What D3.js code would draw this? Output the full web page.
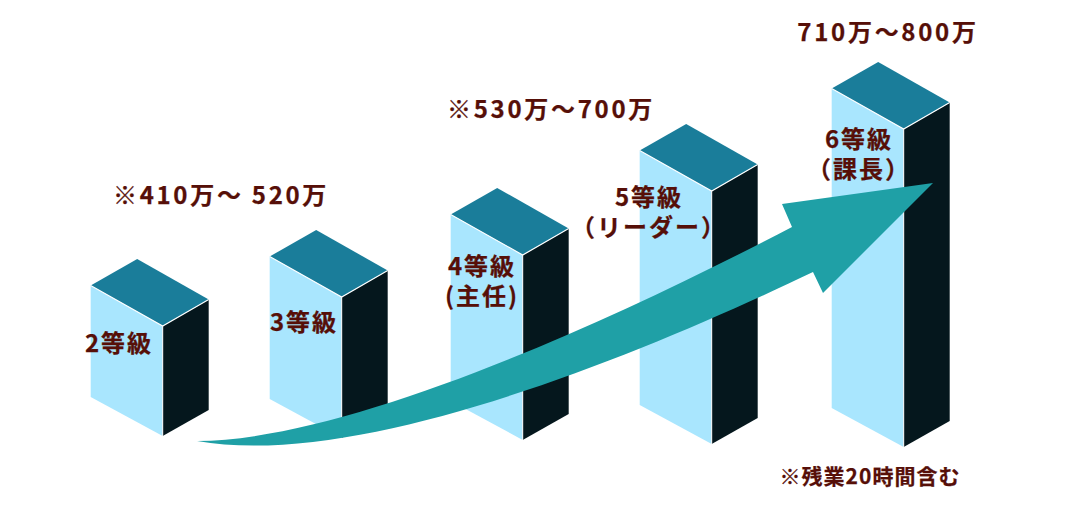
<!DOCTYPE html>
<html><head><meta charset="utf-8">
<script src="https://d3js.org/d3.v7.min.js"></script>
<style>html,body{margin:0;background:#fff}svg{display:block}
text{font-family:"Noto Sans CJK JP","Noto Sans",sans-serif;font-weight:700;fill:#560f08;stroke:#560f08;stroke-width:.25}</style>
</head><body><svg id="c" width="1070" height="510"></svg>
<script>
const grades=["2等級","3等級","4等級","5等級","6等級"];
const columnHeights=[110,141,185,253,318];
const frontEdge=[162.7,341.7,522.7,711.7,903.7];
const baseEdge=[436,438,440,444,447];
const gradeLabels=[["2等級"],["3等級"],["4等級","(主任)"],["5等級","（リーダー）"],["6等級","（課長）"]];
const gradeLabelX=[119,304,482,649,859];
const gradeLabelY=[352,331,275,206,148];
const salaryBands=["※410万～ 520万","※530万～700万","710万～800万"];
const salaryX=[221,551,888];
const salaryY=[204,118,41];
const note="※残業20時間含む";

const svg=d3.select("#c");
const x=d3.scaleOrdinal(grades,frontEdge);
const base=d3.scaleOrdinal(grades,baseEdge);
const h=d3.scaleLinear([0,318],[0,318]);
const LW=72,LT=40.5,LB=39,RW=46,RT=26.5,RB=26;
const line=d3.line();
const topY=d=>base(d)-h(columnHeights[grades.indexOf(d)]);
const g=svg.selectAll("g.col").data(grades).join("g").attr("class","col");
g.append("path").attr("fill","#a9e6fe").attr("d",d=>{const X=x(d),B=base(d),T=topY(d);
 return line([[X,T],[X-LW,T-LT],[X-LW,B-LB],[X,B]])+"Z"});
g.append("path").attr("fill","#05171d").attr("d",d=>{const X=x(d),B=base(d),T=topY(d);
 return line([[X,T],[X+RW,T-RT],[X+RW,B-RB],[X,B]])+"Z"});
g.append("path").attr("fill","#1a7d9a").attr("d",d=>{const X=x(d),T=topY(d);
 return line([[X,T],[X+RW,T-RT],[X+RW-LW+.5,T-RT-LT],[X-LW,T-LT]])+"Z"});
g.append("path").attr("fill","none").attr("stroke","#fff").attr("stroke-width",1.1).attr("d",d=>{const X=x(d),T=topY(d);
 return line([[X-LW,T-LT],[X,T],[X+RW,T-RT]])});
g.append("path").attr("fill","none").attr("stroke","#fff").attr("stroke-width",1).attr("d",d=>{const X=x(d),T=topY(d),B=base(d);
 return line([[X,T],[X,B]])});

const p=d3.path();
p.moveTo(197,441);
p.bezierCurveTo(350,440,610,322,792,227);
p.lineTo(782,204);p.lineTo(933,183);p.lineTo(823,293);p.lineTo(813,272);
p.bezierCurveTo(640,355,360,470,197,441);
p.closePath();
svg.append("path").attr("d",p.toString()).attr("fill","#1fa0a6");

grades.forEach((d,i)=>{
 gradeLabels[i].forEach((t,j)=>svg.append("text").attr("x",gradeLabelX[i]).attr("y",gradeLabelY[i]+j*30)
  .attr("text-anchor","middle").attr("font-size",24).attr("letter-spacing",2).text(t));
});
salaryBands.forEach((t,i)=>svg.append("text").attr("x",salaryX[i]).attr("y",salaryY[i]).attr("text-anchor","middle")
 .attr("font-size",24).attr("letter-spacing",2.7).text(t));
svg.append("text").attr("x",870).attr("y",484).attr("text-anchor","middle").attr("font-size",21).attr("letter-spacing",1).text(note);
</script></body></html>
